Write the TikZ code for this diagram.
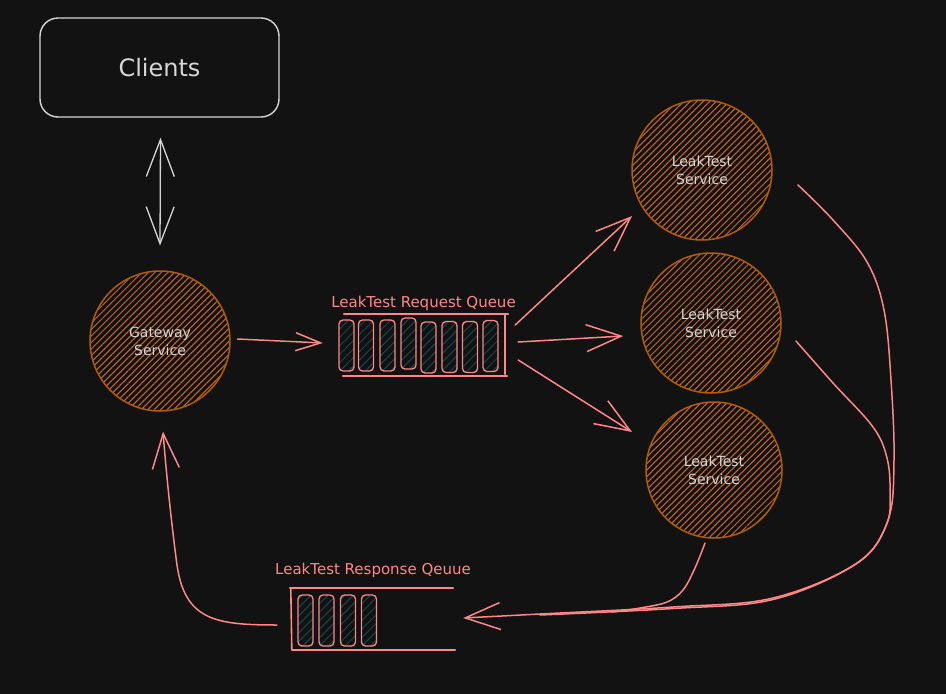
\documentclass[tikz,border=0pt]{standalone}
\usepackage{fontspec}
\setmainfont{DejaVu Sans}
\usetikzlibrary{arrows.meta,patterns.meta,calc}
\definecolor{bg}{HTML}{121212}
\definecolor{salmon}{HTML}{FF8787}
\definecolor{lgray}{HTML}{D6D6D6}
\definecolor{orng}{HTML}{B35C00}
\definecolor{hatchc}{HTML}{C8682F}
\definecolor{tealh}{HTML}{0F4A4F}
\begin{document}
\begin{tikzpicture}[x=1pt,y=-1pt,
  svc/.style={circle, draw=orng, line width=1.5pt, minimum size=140pt, inner sep=0pt,
    pattern={Lines[angle=45,distance=4.6pt,line width=1pt]}, pattern color=hatchc,
    text=lgray, align=center, font=\fontsize{14}{18}\selectfont},
  cell/.style={rectangle, rounded corners=4pt, draw=salmon, line width=1.3pt,
    minimum width=15pt, minimum height=51pt, inner sep=0pt,
    pattern={Lines[angle=45,distance=6pt,line width=1pt]}, pattern color=tealh},
  qbox/.style={rectangle, inner sep=0pt, minimum height=62pt},
  qline/.style={draw=salmon, line width=1.6pt, line cap=round},
  qlabel/.style={text=salmon, font=\fontsize{15}{18}\selectfont, anchor=base},
  flow/.style={draw=salmon, line width=1.5pt, line cap=round},
  bigtip/.style={-{Straight Barb[length=35pt,width=27pt]}},
  smalltip/.style={-{Straight Barb[length=25pt,width=18pt]}},
]
\fill[bg] (0,0) rectangle (946,694);
\useasboundingbox (0,0) rectangle (946,694);

% clients
\node[draw=lgray, line width=1.4pt, rounded corners=18pt, minimum width=239pt, minimum height=99pt,
  text=lgray, font=\fontsize{24}{28}\selectfont] (clients) at (159.5,67.5) {Clients};

% services
\node[svc] (gw) at (160,341) {Gateway\\Service};
\node[svc] (s1) at (702,170) {LeakTest\\Service};
\node[svc] (s2) at (711,323) {LeakTest\\Service};
\node[svc, minimum size=136pt] (s3) at (714,470) {LeakTest\\Service};

% request queue
\node[qbox, minimum width=169pt] (rq) at (423.5,345) {};
\node[qlabel] (rql) at (423.5,307) {LeakTest Request Queue};
\draw[qline] ($(rq.north west)+(5,0)$) -- (rq.north east);
\draw[qline] ($(rq.south west)+(4,0)$) -- ($(rq.south east)+(-1,0)$);
\draw[qline] ($(rq.north east)+(-3,1)$) -- ($(rq.south east)+(-3,-2)$);
\node[cell] (c1) at (346.5,345.5) {};
\node[cell] (c2) at (366,345.5) {};
\node[cell] (c3) at (387.5,345.5) {};
\node[cell] (c4) at (408.5,343.5) {};
\node[cell] (c5) at (428.5,347.5) {};
\node[cell] (c6) at (449.5,347) {};
\node[cell] (c7) at (470,347) {};
\node[cell] (c8) at (490.5,346) {};

% response queue
\node[qbox, minimum width=165pt] (rp) at (372.5,619) {};
\node[qlabel] (rpl) at (373,574) {LeakTest Response Qeuue};
\draw[qline] (rp.north west) -- ($(rp.north east)+(-2,0)$);
\draw[qline] ($(rp.south west)+(2,0)$) -- (rp.south east);
\draw[qline] ($(rp.north west)+(1,1)$) -- ($(rp.south west)+(2,-1)$);
\node[cell] (d1) at (305.5,620.5) {};
\node[cell] (d2) at (326.5,620.5) {};
\node[cell] (d3) at (348,620.5) {};
\node[cell] (d4) at (369,620.5) {};

% client <-> gateway
\draw[draw=lgray, line width=1.3pt, {Straight Barb[length=37pt,width=28pt]}-{Straight Barb[length=37pt,width=28pt]}]
  ($(clients.south)+(1,20)$) -- ($(gw.north)+(0,-25)$);

% gateway -> request queue
\draw[flow, smalltip] ($(gw.east)+(7,-2)$) -- ($(rq.west)+(-16,-2)$);

% request queue -> services
\draw[flow, bigtip] ($(rq.east)+(7,-20)$) -- ($(s1.center)+(-70,46)$);
\draw[flow, bigtip] ($(rq.east)+(10,-3)$) -- ($(s2.west)+(-17,13)$);
\draw[flow, bigtip] ($(rq.east)+(10,15)$) -- ($(s3.center)+(-82,-38)$);

% services -> response queue
\coordinate (s1o) at ($(s1.center)+(96,15)$);
\coordinate (s2o) at ($(s2.center)+(85,18)$);
\coordinate (s3o) at ($(s3.center)+(-9,73)$);
\coordinate (rtip) at ($(rp.east)+(8,-1)$);
\draw[flow, bigtip] plot[smooth, tension=0.6] coordinates {(s1o) (833,220) (867,262) (884,310) (891,380) (894,460) (888,520) (857,563) (773,598) (673,607) (540,614) (rtip)};
\draw[flow] plot[smooth, tension=0.6] coordinates {(s2o) (833,383) (873,427) (887,458) (890,492) (886,526) (856,564) (773,599.5) (673,608.5) (540,615)};
\draw[flow] plot[smooth, tension=0.6] coordinates {(s3o) (695,568) (683,590) (667,602) (640,608) (612,612)};

% response queue -> gateway
\draw[flow, bigtip] ($(rp.west)+(-13,6)$) .. controls (215,625) and (185,620) .. (177,565)
  .. controls (171,520) and (166,470) .. ($(gw.south)+(3,20)$);
\end{tikzpicture}
\end{document}
